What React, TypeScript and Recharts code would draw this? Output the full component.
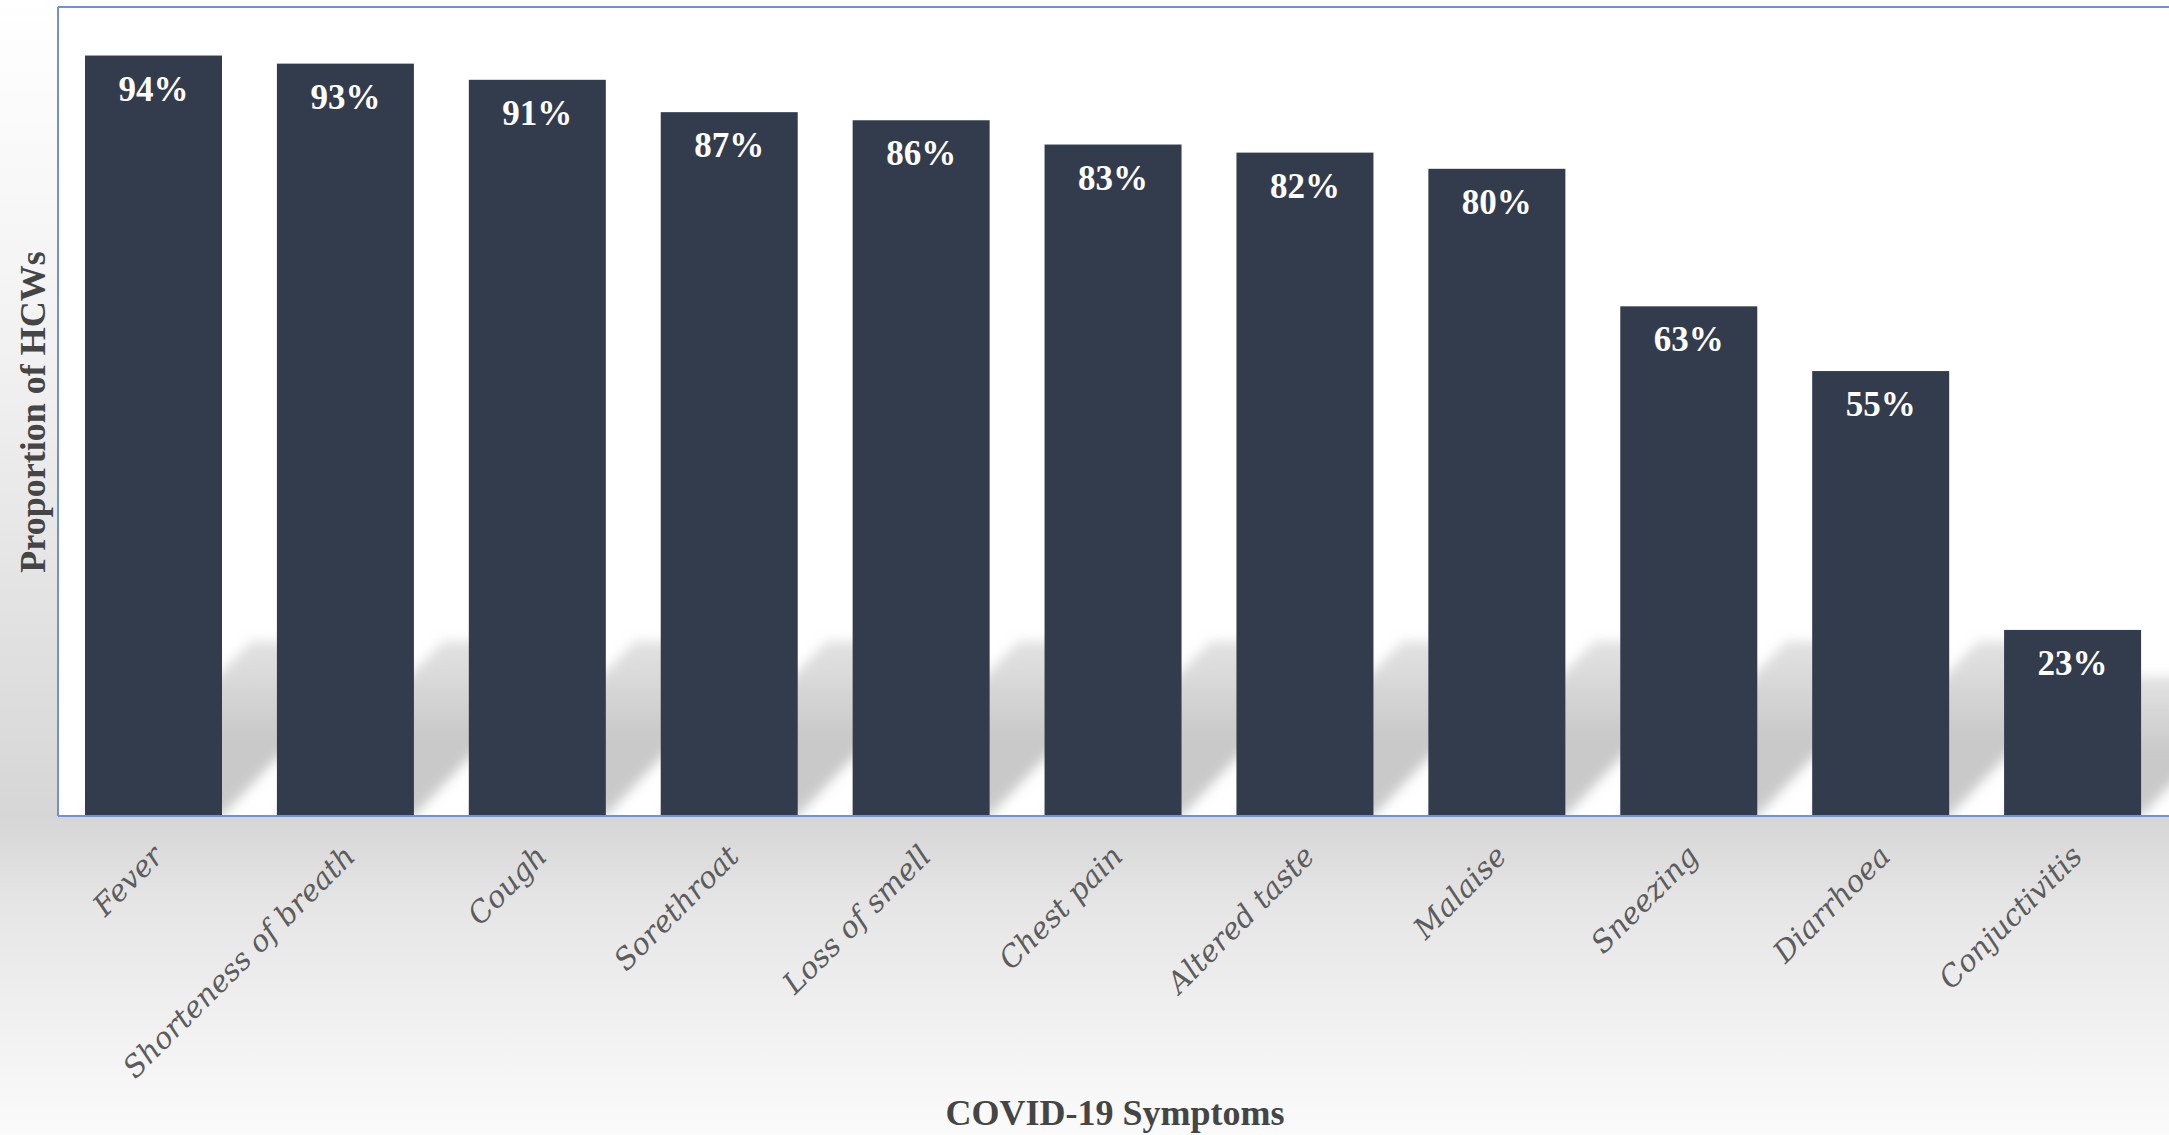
import React from 'react'
import { Bar, BarChart, CartesianGrid, LabelList, ReferenceLine, XAxis, YAxis } from 'recharts'

const SYMPTOMS = [
  'Fever',
  'Shorteness of breath',
  'Cough',
  'Sorethroat',
  'Loss of smell',
  'Chest pain',
  'Altered taste',
  'Malaise',
  'Sneezing',
  'Diarrhoea',
  'Conjuctivitis',
]
const PROPORTIONS = [94, 93, 91, 87, 86, 83, 82, 80, 63, 55, 23]
const Y_DOMAIN = [0, 100]

const data = SYMPTOMS.map((name, i) => ({ name, value: PROPORTIONS[i] }))

const BAR_FILL = '#333c4d'
const FRAME = '#7090d8'
const SERIF = '"Liberation Serif", "Times New Roman", serif'

// bar with a soft slanted shadow falling back to the right
const ShadowBar = (props: any) => {
  const { x, y, width, height } = props
  const base = y + height
  const h = Math.min(height * 0.75, 175)
  const dx = h * 0.95
  const pts = [
    [x, base],
    [x + width, base],
    [x + width + dx, base - h],
    [x + dx, base - h],
  ]
    .map((p) => p.join(','))
    .join(' ')
  return (
    <g>
      <polygon points={pts} fill="url(#shadowFade)" filter="url(#shadowBlur)" clipPath="url(#plotClip)" />
      <rect x={x} y={y} width={width} height={height} fill={BAR_FILL} />
    </g>
  )
}

const SymptomTick = (props: any) => {
  const { x, y, payload } = props
  const ax = x + 11
  const ay = y + 42
  return (
    <text
      x={ax}
      y={ay}
      transform={`rotate(-45, ${ax}, ${ay})`}
      textAnchor="end"
      fill="#5c5c5c"
      fontSize={29.5}
      fontStyle="italic"
      fontFamily='"DejaVu Serif", serif'
    >
      {payload.value}
    </text>
  )
}

const ValueLabel = (props: any) => {
  const { x, y, width, value } = props
  return (
    <text
      x={x + width / 2}
      y={y + 45}
      textAnchor="middle"
      fill="#ffffff"
      fontSize={35}
      fontWeight="bold"
      fontFamily={SERIF}
    >
      {value}%
    </text>
  )
}

export default function App() {
  return (
    <div
      style={{
        position: 'absolute',
        left: 0,
        top: 0,
        width: 2169,
        height: 1135,
        overflow: 'hidden',
        background: 'linear-gradient(to bottom, #ffffff 0%, #f1f1f1 32%, #d6d6d6 72%, #e6e6e6 80%, #fbfbfb 100%)',
      }}
    >
      <BarChart width={2169} height={1135} data={data} margin={{ top: 7, right: 0, bottom: 0, left: 0 }}>
        <defs>
          <linearGradient id="shadowFade" x1="0" y1="0" x2="0" y2="1">
            <stop offset="0%" stopColor="#cfcfcf" stopOpacity={0.6} />
            <stop offset="55%" stopColor="#c6c6c6" stopOpacity={0.95} />
            <stop offset="100%" stopColor="#cacaca" stopOpacity={1} />
          </linearGradient>
          <filter id="shadowBlur" x="-20%" y="-20%" width="140%" height="140%">
            <feGaussianBlur stdDeviation="6" />
          </filter>
          <clipPath id="plotClip">
            <rect x={58} y={7} width={2111} height={809} />
          </clipPath>
        </defs>
        <CartesianGrid horizontal={false} vertical={false} fill="#ffffff" stroke="none" />
        <XAxis
          dataKey="name"
          height={319}
          interval={0}
          tickSize={0}
          tickMargin={0}
          tickLine={false}
          axisLine={{ stroke: FRAME, strokeWidth: 2 }}
          tick={<SymptomTick />}
          label={{
            content: () => (
              <text
                x={1115}
                y={1125}
                textAnchor="middle"
                fill="#454545"
                fontSize={36}
                fontWeight="bold"
                fontFamily={SERIF}
              >
                COVID-19 Symptoms
              </text>
            ),
          }}
        />
        <YAxis
          width={58}
          domain={Y_DOMAIN}
          tick={false}
          tickLine={false}
          axisLine={{ stroke: FRAME, strokeWidth: 2 }}
          label={{
            content: () => (
              <text
                x={33}
                y={412}
                transform="rotate(-90, 33, 412)"
                textAnchor="middle"
                dominantBaseline="central"
                fill="#454545"
                fontSize={36}
                fontWeight="bold"
                fontFamily={SERIF}
              >
                Proportion of HCWs
              </text>
            ),
          }}
        />
        <ReferenceLine y={Y_DOMAIN[1]} stroke={FRAME} strokeWidth={2} />
        <Bar dataKey="value" barSize={137} shape={<ShadowBar />} isAnimationActive={false}>
          <LabelList dataKey="value" content={<ValueLabel />} />
        </Bar>
      </BarChart>
    </div>
  )
}
